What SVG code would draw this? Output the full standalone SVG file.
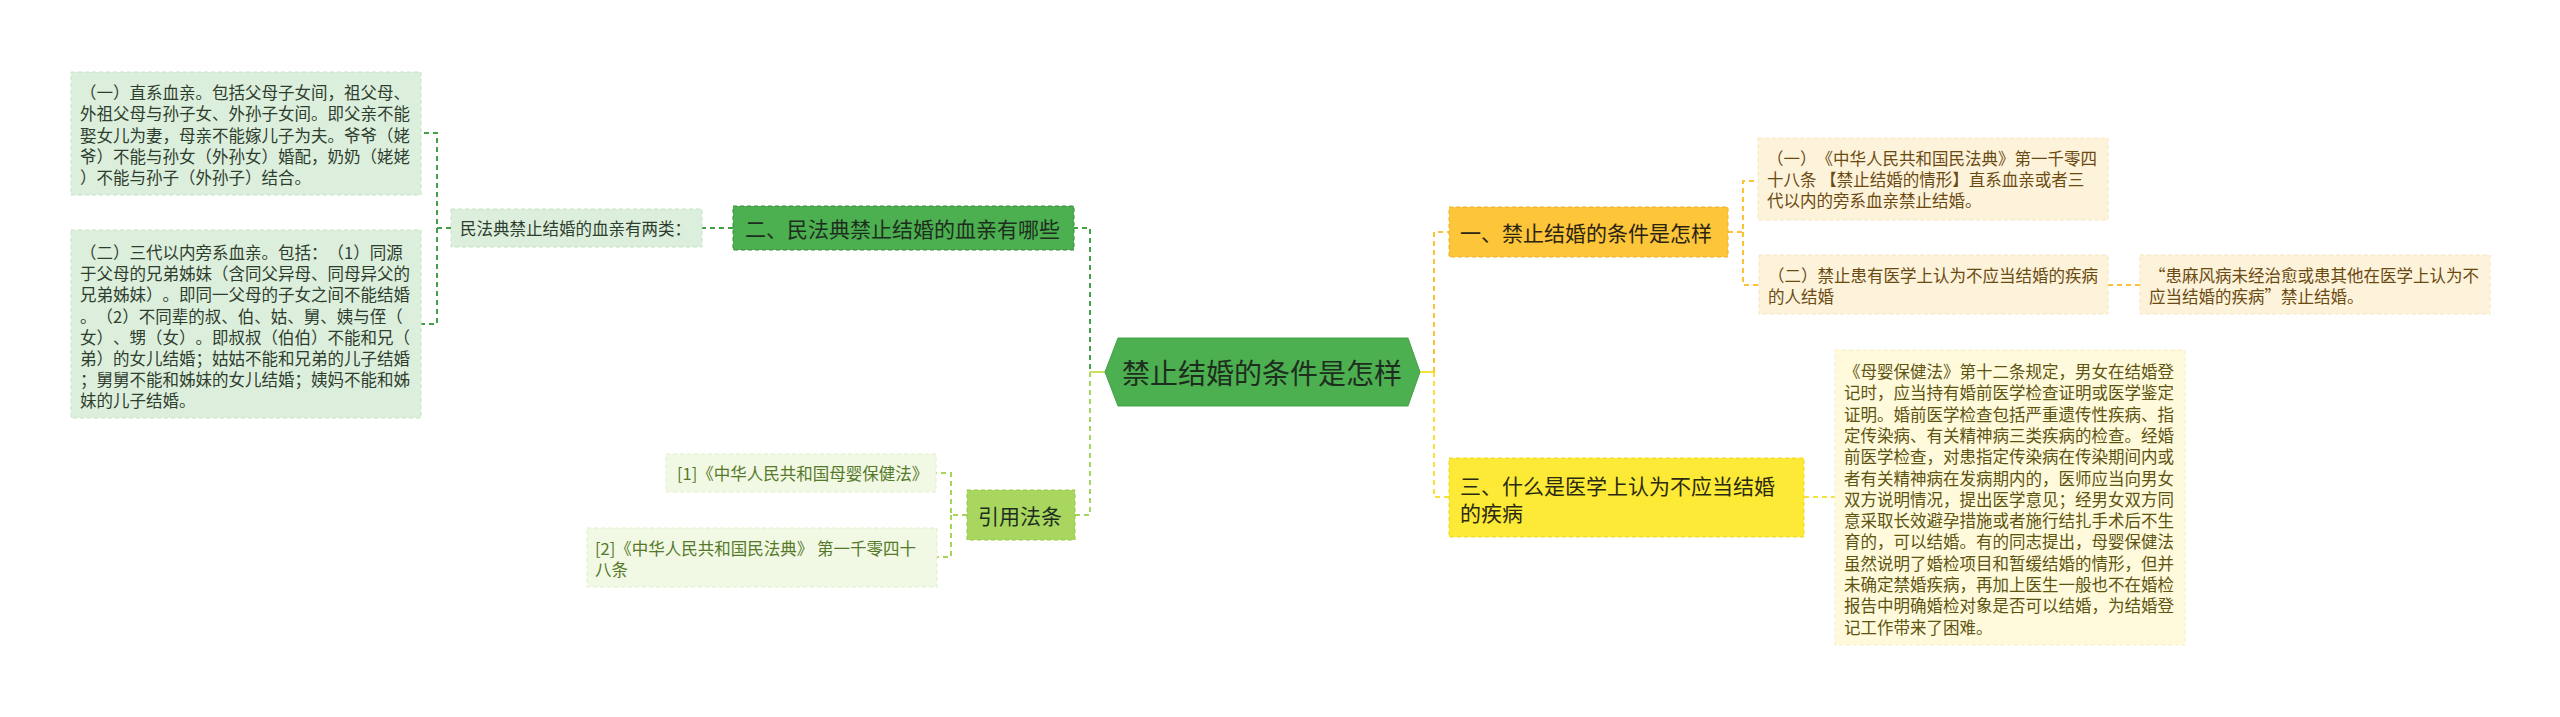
<svg xmlns="http://www.w3.org/2000/svg" width="2560" height="717" viewBox="0 0 2560 717">
<style>
text{font-family:"Noto Sans CJK SC","Noto Sans",sans-serif;dominant-baseline:central;text-spacing-trim:space-all;font-feature-settings:"chws" 0,"halt" 0}
.t16{font-size:16.5px}
.t21{font-size:21px}
.c{fill:none;stroke-width:2;stroke-dasharray:5,4}
.g{stroke:#43a047}
.lg{stroke:#a5d65a}
.o{stroke:#fbc236}
.y{stroke:#f7e23a}
.nb{stroke-width:1;stroke-dasharray:4,3}
.bx-lg{fill:#dcefdc;stroke:#c6e2c6}
.bx-ref{fill:#f1f8e3;stroke:#e0efc8}
.bx-o{fill:#fdf3da;stroke:#f6e6c0}
.bx-y{fill:#fffadb;stroke:#f6efc4}
.tx-lg{fill:#2f3d2f}
.tx-ref{fill:#55792a}
.tx-o{fill:#6b4a12}
.tx-y{fill:#5e5412}
</style>
<rect width="2560" height="717" fill="#ffffff"/>
<g id="connectors">
<path class="c g" d="M1105,372 H1090 V228 H1074"/>
<path class="c lg" d="M1090,372 V515 H1075"/>
<path d="M1090,372 H1105" stroke="#c9e05a" stroke-width="2"/>
<path class="c g" d="M733,228 H702"/>
<path class="c g" d="M451,228 H437 V133 H421 M437,228 V324 H421"/>
<path class="c lg" d="M967,515 H951 V473 H936 M951,515 V557 H937"/>
<path d="M1420,372 H1434" stroke="#f7e23a" stroke-width="2"/>
<path class="c o" d="M1434,372 V232 H1449"/>
<path class="c y" d="M1434,372 V497 H1449"/>
<path class="c o" d="M1728,232 H1743 V181 H1758 M1743,232 V285 H1759"/>
<path class="c o" d="M2108,285 H2140"/>
<path class="c y" d="M1804,497 H1835"/>
</g>
<g id="root">
<polygon points="1105,372 1118,338 1408,338 1420,372 1408,406 1118,406" fill="#4caf50" stroke="#43a047" stroke-width="1"/>
<text x="1262" y="372" font-size="28" text-anchor="middle" fill="#1e2e1e">禁止结婚的条件是怎样</text>
</g>
<g id="n2">
<rect x="733" y="206" width="341" height="44" fill="#4caf50" stroke="#3b8f3f" class="nb"/>
<text x="745" y="228" class="t21" fill="#1e2e1e">二、民法典禁止结婚的血亲有哪些</text>
</g>
<g id="n2a">
<rect x="451" y="209" width="251" height="38" class="bx-lg nb"/>
<text x="460" y="228" class="t16 tx-lg">民法典禁止结婚的血亲有两类：</text>
</g>
<g id="n2a1">
<rect x="71" y="72" width="350" height="123" class="bx-lg nb"/>
<text class="t16 tx-lg">
<tspan x="80" y="92">（一）直系血亲。包括父母子女间，祖父母、</tspan>
<tspan x="80" y="113.3">外祖父母与孙子女、外孙子女间。即父亲不能</tspan>
<tspan x="80" y="134.6">娶女儿为妻，母亲不能嫁儿子为夫。爷爷（姥</tspan>
<tspan x="80" y="155.9">爷）不能与孙女（外孙女）婚配，奶奶（姥姥</tspan>
<tspan x="80" y="177.2">）不能与孙子（外孙子）结合。</tspan>
</text>
</g>
<g id="n2a2">
<rect x="71" y="230" width="350" height="188" class="bx-lg nb"/>
<text class="t16 tx-lg">
<tspan x="80" y="252">（二）三代以内旁系血亲。包括：（1）同源</tspan>
<tspan x="80" y="273.2">于父母的兄弟姊妹（含同父异母、同母异父的</tspan>
<tspan x="80" y="294.4">兄弟姊妹）。即同一父母的子女之间不能结婚</tspan>
<tspan x="80" y="315.6">。（2）不同辈的叔、伯、姑、舅、姨与侄（</tspan>
<tspan x="80" y="336.8">女）、甥（女）。即叔叔（伯伯）不能和兄（</tspan>
<tspan x="80" y="358">弟）的女儿结婚；姑姑不能和兄弟的儿子结婚</tspan>
<tspan x="80" y="379.2">；舅舅不能和姊妹的女儿结婚；姨妈不能和姊</tspan>
<tspan x="80" y="400.4">妹的儿子结婚。</tspan>
</text>
</g>
<g id="ref">
<rect x="967" y="490" width="108" height="50" fill="#a8d65e" stroke="#94c64a" class="nb"/>
<text x="978" y="515" class="t21" fill="#1e2e1e">引用法条</text>
</g>
<g id="ref1">
<rect x="666" y="454" width="270" height="38" class="bx-ref nb"/>
<text x="677" y="473" class="t16 tx-ref">[1]《中华人民共和国母婴保健法》</text>
</g>
<g id="ref2">
<rect x="587" y="528" width="350" height="59" class="bx-ref nb"/>
<text class="t16 tx-ref">
<tspan x="595" y="548">[2]《中华人民共和国民法典》 第一千零四十</tspan>
<tspan x="595" y="568.5">八条</tspan>
</text>
</g>
<g id="n1">
<rect x="1449" y="207" width="279" height="50" fill="#fcc53a" stroke="#eeae22" class="nb"/>
<text x="1460" y="232" class="t21" fill="#2b2410">一、禁止结婚的条件是怎样</text>
</g>
<g id="n1a">
<rect x="1758" y="138" width="350" height="82" class="bx-o nb"/>
<text class="t16 tx-o">
<tspan x="1767" y="158">（一）《中华人民共和国民法典》第一千零四</tspan>
<tspan x="1767" y="179">十八条 【禁止结婚的情形】直系血亲或者三</tspan>
<tspan x="1767" y="200">代以内的旁系血亲禁止结婚。</tspan>
</text>
</g>
<g id="n1b">
<rect x="1759" y="255" width="349" height="59" class="bx-o nb"/>
<text class="t16 tx-o">
<tspan x="1768" y="275">（二）禁止患有医学上认为不应当结婚的疾病</tspan>
<tspan x="1768" y="296">的人结婚</tspan>
</text>
</g>
<g id="n1b1">
<rect x="2140" y="255" width="350" height="59" class="bx-o nb"/>
<text class="t16 tx-o">
<tspan x="2149" y="275">“患麻风病未经治愈或患其他在医学上认为不</tspan>
<tspan x="2149" y="296">应当结婚的疾病”禁止结婚。</tspan>
</text>
</g>
<g id="n3">
<rect x="1449" y="458" width="355" height="79" fill="#fdea37" stroke="#ecd624" class="nb"/>
<text class="t21" fill="#2b2a10">
<tspan x="1460" y="485">三、什么是医学上认为不应当结婚</tspan>
<tspan x="1460" y="512">的疾病</tspan>
</text>
</g>
<g id="n3a">
<rect x="1835" y="350" width="350" height="295" class="bx-y nb"/>
<text class="t16 tx-y">
<tspan x="1844" y="371">《母婴保健法》第十二条规定，男女在结婚登</tspan>
<tspan x="1844" y="392.3">记时，应当持有婚前医学检查证明或医学鉴定</tspan>
<tspan x="1844" y="413.6">证明。婚前医学检查包括严重遗传性疾病、指</tspan>
<tspan x="1844" y="434.9">定传染病、有关精神病三类疾病的检查。经婚</tspan>
<tspan x="1844" y="456.2">前医学检查，对患指定传染病在传染期间内或</tspan>
<tspan x="1844" y="477.5">者有关精神病在发病期内的，医师应当向男女</tspan>
<tspan x="1844" y="498.8">双方说明情况，提出医学意见；经男女双方同</tspan>
<tspan x="1844" y="520.1">意采取长效避孕措施或者施行结扎手术后不生</tspan>
<tspan x="1844" y="541.4">育的，可以结婚。有的同志提出，母婴保健法</tspan>
<tspan x="1844" y="562.7">虽然说明了婚检项目和暂缓结婚的情形，但并</tspan>
<tspan x="1844" y="584">未确定禁婚疾病，再加上医生一般也不在婚检</tspan>
<tspan x="1844" y="605.3">报告中明确婚检对象是否可以结婚，为结婚登</tspan>
<tspan x="1844" y="626.6">记工作带来了困难。</tspan>
</text>
</g>
</svg>
